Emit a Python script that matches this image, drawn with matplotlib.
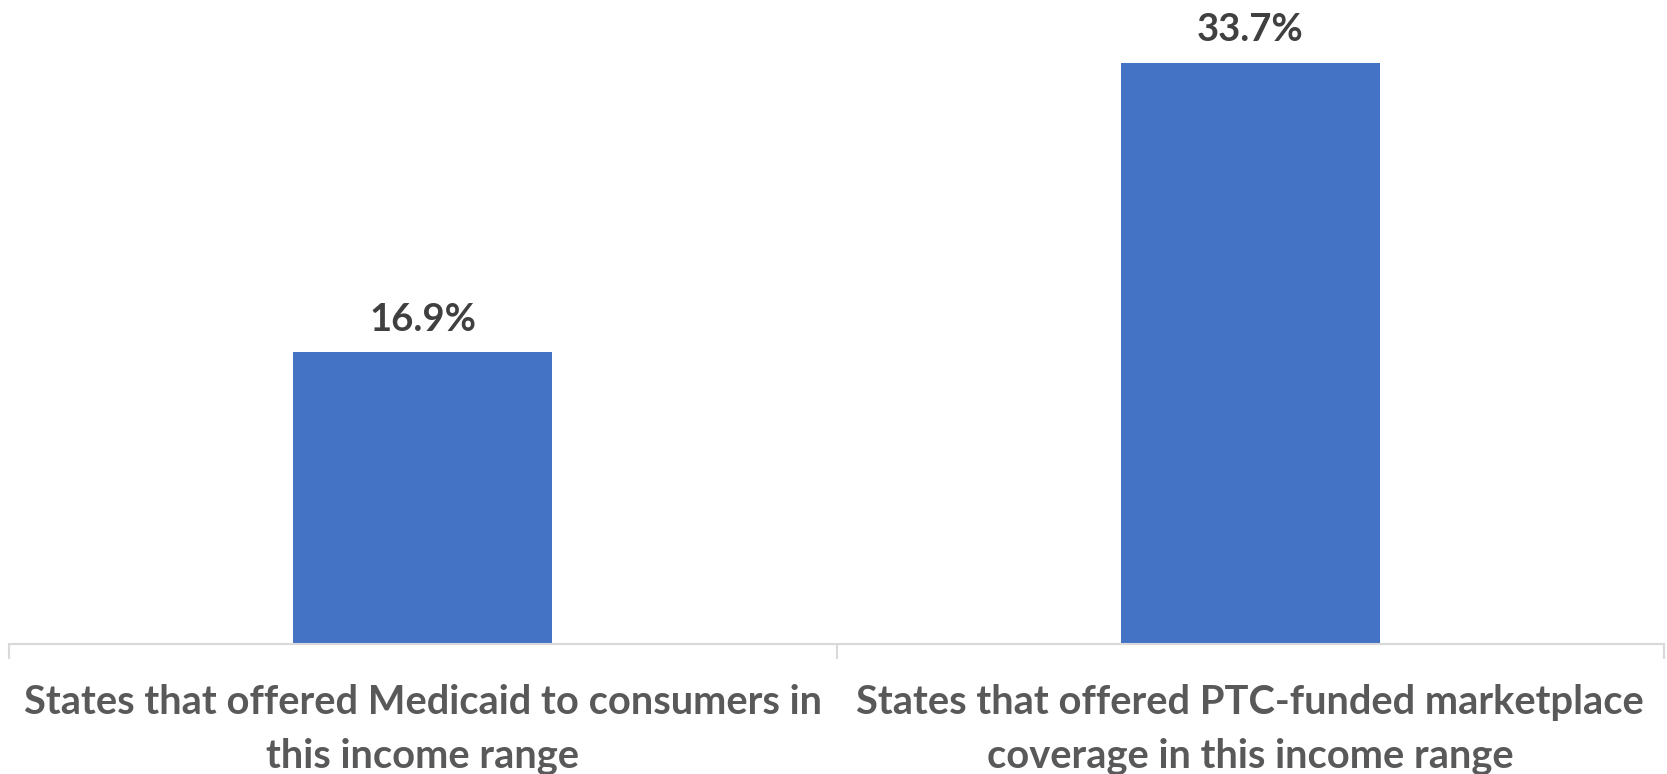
import matplotlib
matplotlib.use("Agg")
import matplotlib.pyplot as plt
from matplotlib.ticker import FixedLocator

categories = ["States that offered Medicaid to consumers in\nthis income range",
              "States that offered PTC-funded marketplace\ncoverage in this income range"]
values = [16.9, 33.7]
value_labels = ["16.9%", "33.7%"]

W, H, DPI = 1667, 774, 100
fig = plt.figure(figsize=(W / DPI, H / DPI), dpi=DPI)
ax = fig.add_axes([9 / W, (H - 644) / H, (1664 - 9) / W, 644 / H])

x = list(range(len(categories)))
bars = ax.bar(x, values, width=0.313, color="#4472C4", zorder=2)
ax.set_xlim(-0.5, len(categories) - 0.5)
ax.set_ylim(0, 37.33)

for b, lab in zip(bars, value_labels):
    ax.annotate(lab, (b.get_x() + b.get_width() / 2, b.get_height()),
                xytext=(0, 11), textcoords="offset points", ha="center", va="bottom",
                fontsize=27.5, fontweight="bold", color="#404040", family="Lato")

for s in ["top", "right", "left"]:
    ax.spines[s].set_visible(False)
ax.spines["bottom"].set_color("#D9D9D9")
ax.spines["bottom"].set_linewidth(1.5)
ax.set_yticks([])
ax.set_xticks(x)
ax.set_xticklabels(categories, fontsize=28.7, fontweight="bold", color="#595959",
                   family="Lato", linespacing=1.55)
ax.tick_params(axis="x", which="major", length=0, pad=29)
ax.xaxis.set_minor_locator(FixedLocator([-0.5 + i for i in range(len(categories) + 1)]))
ax.tick_params(axis="x", which="minor", length=11, width=1.5, color="#D9D9D9")

fig.savefig("out.png", dpi=DPI)
